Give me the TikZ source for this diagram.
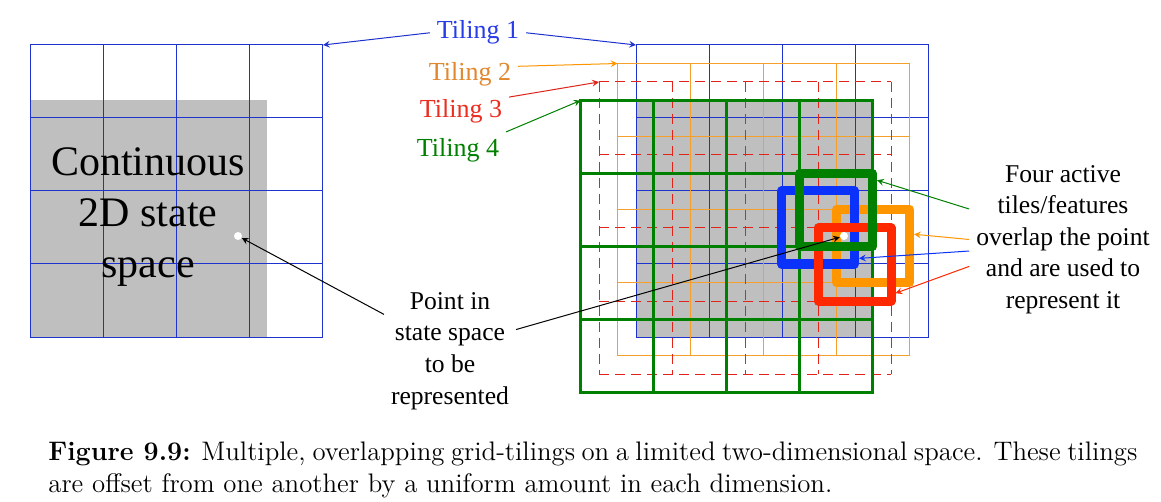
\documentclass[tikz,border=0pt]{standalone}
\usepackage{fontspec}
\newfontfamily\timesf{Liberation Serif}
\definecolor{gridblue}{RGB}{30,50,205}
\definecolor{gridorange}{RGB}{245,160,45}
\definecolor{gridred}{RGB}{225,35,25}
\definecolor{gridgreen}{RGB}{0,128,0}
\definecolor{tileblue}{RGB}{10,50,250}
\definecolor{tileorange}{RGB}{255,150,0}
\definecolor{tilered}{RGB}{255,40,0}
\definecolor{labelblue}{RGB}{40,60,230}
\definecolor{labelorange}{RGB}{225,135,45}
\definecolor{labelred}{RGB}{235,45,30}
\tikzset{
	tilingA/.style={gridblue, line width=0.5pt, line cap=rect},
	tilingB/.style={gridorange, line width=0.5pt, line cap=rect},
	tilingC/.style={gridred, line width=0.5pt, dash pattern=on 5pt off 3pt},
	tilingD/.style={gridgreen, line width=1.5pt, line cap=rect},
	active/.style={draw, line width=4.5pt, line join=round, minimum size=36.5pt, inner sep=0pt},
	tlabel/.style={font=\timesf\fontsize{13}{16}\selectfont},
	note/.style={font=\timesf\fontsize{12.8}{15.8}\selectfont, align=center},
	ptr/.style={-stealth, line width=0.5pt},
	dot/.style={circle, fill=white, inner sep=0pt, minimum size=4pt}
}
\begin{document}
\begin{tikzpicture}[x=0.5pt, y=-0.5pt]
	\useasboundingbox[fill=white] (0,0) rectangle (1161,502);
	\fill[black!25] (30,99.75) rectangle ++(237.25,237.25);
	\fill[black!25] (636,100.75) rectangle ++(237.25,237.25);
	\foreach \i in {0,...,4}{\draw[tilingA] (30+\i*73,45)--++(0,292) (30,45+\i*73)--++(292,0);}
	\foreach \i in {0,...,4}{\draw[tilingA] (636+\i*73,45)--++(0,292) (636,45+\i*73)--++(292,0);}
	\foreach \i in {0,...,4}{\draw[tilingB] (617.5+\i*73,63.5)--++(0,292) (617.5,63.5+\i*73)--++(292,0);}
	\foreach \i in {0,...,4}{\draw[tilingC] (599+\i*73,82)--++(0,292) (599,82+\i*73)--++(292,0);}
	\foreach \i in {0,...,4}{\draw[tilingD] (580.5+\i*73,100.5)--++(0,292) (580.5,100.5+\i*73)--++(292,0);}
	\coordinate (cornerL) at (323,45);
	\coordinate (cornerA) at (636,45);
	\coordinate (cornerB) at (617.5,63.5);
	\coordinate (cornerC) at (599,82);
	\coordinate (cornerD) at (580.5,100.5);
	\node[active, tileorange] (actB) at (873,246) {};
	\node[active, tileblue] (actA) at (818,227.5) {};
	\node[active, tilered] (actC) at (854.5,264.5) {};
	\node[active, gridgreen] (actD) at (836,210) {};
	\node[dot] (ptL) at (238,236) {};
	\node[dot] (ptR) at (844,236) {};
	\node[font=\timesf\fontsize{21}{25.3}\selectfont, align=center] (space) at (148,217) {Continuous\\2D state\\space};
	\node[tlabel, labelblue, anchor=base] (t1) at (478,39) {Tiling 1};
	\node[tlabel, labelorange, anchor=base] (t2) at (470,81) {Tiling 2};
	\node[tlabel, labelred, anchor=base] (t3) at (461,118) {Tiling 3};
	\node[tlabel, gridgreen, anchor=base] (t4) at (458,157) {Tiling 4};
	\node[note] (pt) at (450,351) {Point in\\state space\\to be\\represented};
	\node[note] (four) at (1063,239.5) {Four active\\tiles/features\\overlap the point\\and are used to\\represent it};
	\draw[ptr, gridblue] (t1.west)--(cornerL);
	\draw[ptr, gridblue] (t1.east)--(cornerA);
	\draw[ptr, tileorange] (t2.10)--(cornerB);
	\draw[ptr, gridred] (t3.17)--(cornerC);
	\draw[ptr, gridgreen] (t4.north east)--(cornerD);
	\draw[ptr] (pt.151)--(ptL);
	\draw[ptr] (pt.18)--(ptR);
	\draw[ptr, gridgreen] (four.162)--(actD.36);
	\draw[ptr, tileorange] (four.west)--(actB.16);
	\draw[ptr, tileblue] (four.187)--(actA.-37);
	\draw[ptr, tilered] (four.196)--(actC.-35);
	\node[anchor=north west, inner sep=0pt, text width=544.5pt, align=justify, font=\fontsize{13.4}{16}\selectfont] (caption) at (48,441.5) {\mbox{\textbf{Figure 9.9:}}\hskip0.4em Multiple, overlapping grid-tilings on a limited two-dimensional space. These tilings\linebreak are offset from one another by a uniform amount in each dimension.};
\end{tikzpicture}
\end{document}
